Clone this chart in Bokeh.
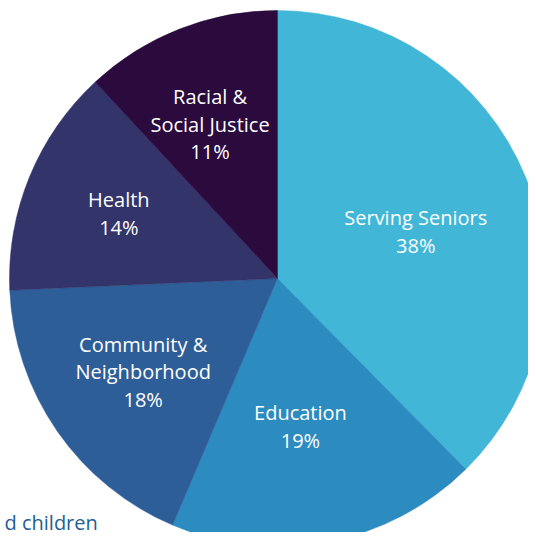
import math
from bokeh.plotting import figure
from bokeh.models import ColumnDataSource, Range1d, Label
from bokeh.core.properties import value
from bokeh.embed import file_html
from bokeh.resources import INLINE

# --- data ---
categories = ["Serving Seniors", "Education", "Community & Neighborhood", "Health", "Racial & Social Justice"]
shares = [37.6, 18.8, 17.9, 13.8, 11.9]
pct_labels = ["38%", "19%", "18%", "14%", "11%"]
label_lines = [["Serving Seniors"], ["Education"], ["Community &", "Neighborhood"], ["Health"], ["Racial &", "Social Justice"]]
colors = ["#41b6d6", "#2c8bbf", "#2e5e98", "#32346a", "#2b0a3d"]
# label placement (fraction of radius, angle tweak in degrees)
label_dist = [0.545, 0.559, 0.61, 0.64, 0.628]
label_tweak = [3.5, 2.0, 0.0, 0.0, -2.2]
footer_text = "d children"

W, H = 528, 532
cx, cy, R = 277, H - 278, 268
LINE = 27.5

p = figure(width=W, height=H, output_backend="svg", toolbar_location=None,
           x_range=Range1d(0, W), y_range=Range1d(0, H), min_border=0)
p.axis.visible = False
p.grid.visible = False
p.outline_line_color = None
p.background_fill_color = "white"
p.border_fill_color = "white"

total = sum(shares)
starts, ends, mids = [], [], []
cum = 0.0
for s in shares:
    a0 = cum / total * 2 * math.pi
    cum += s
    a1 = cum / total * 2 * math.pi
    starts.append(math.pi / 2 - a0)
    ends.append(math.pi / 2 - a1)
    mids.append((a0 + a1) / 2)

src = ColumnDataSource(dict(x=[cx] * len(shares), y=[cy] * len(shares), start=starts, end=ends, color=colors))
p.wedge(x="x", y="y", radius=R, start_angle="start", end_angle="end", direction="clock",
        fill_color="color", line_color="color", line_width=0.5, source=src)

tx, ty, tt = [], [], []
for i, lines in enumerate(label_lines):
    all_lines = lines + [pct_labels[i]]
    d = label_dist[i] * R
    ang = mids[i] + math.radians(label_tweak[i])
    mx = cx + d * math.sin(ang)
    my = cy + d * math.cos(ang)
    n = len(all_lines)
    for k, t in enumerate(all_lines):
        tx.append(mx)
        ty.append(my + ((n - 1) / 2 - k) * LINE)
        tt.append(t)

p.text(x=tx, y=ty, text=tt, text_color="white", text_font=value("Open Sans"),
       text_font_size="20px", text_align="center", text_baseline="middle")

p.add_layout(Label(x=4, y=10, text=footer_text, text_color="#1f5f93", text_font="Open Sans",
                   text_font_size="20px", text_align="left", text_baseline="alphabetic"))

open("out.html", "w").write(file_html(p, INLINE))
